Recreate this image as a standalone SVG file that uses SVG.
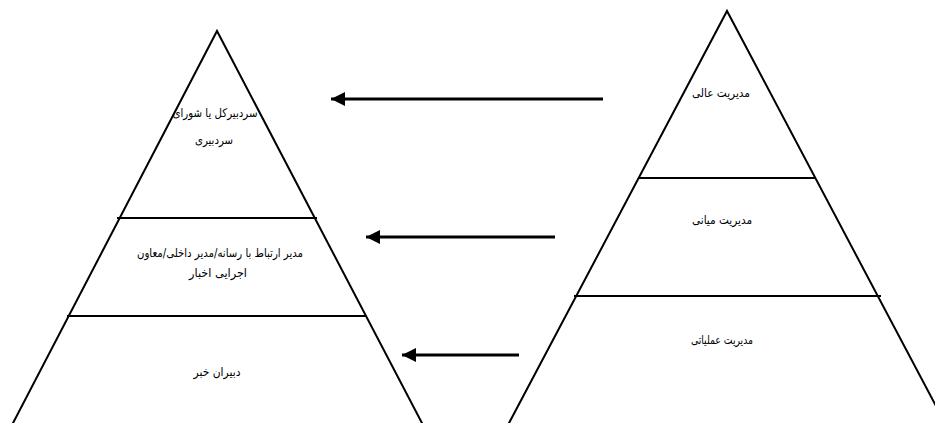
<svg xmlns="http://www.w3.org/2000/svg" width="935" height="423" viewBox="0 0 935 423">
<style>
.edge{fill:none;stroke:#000;stroke-width:2;}
.div{stroke:#000;stroke-width:2;}
.lbl{font-family:"DejaVu Sans","Noto Sans",sans-serif;font-size:12px;fill:#000;text-anchor:middle;direction:rtl;}
.arr{stroke:#000;stroke-width:3;fill:none;}
</style>
<defs>
<marker id="ah" markerUnits="userSpaceOnUse" markerWidth="16" markerHeight="14" refX="14" refY="7" orient="auto">
<path d="M0,0 L14,7 L0,14 Z" fill="#000"/>
</marker>
</defs>
<rect width="935" height="423" fill="#fff"/>
<g id="pyramid-left">
<path class="edge" d="M12,425 L217,31 L423,425"/>
<line class="div" x1="117" y1="218" x2="317" y2="218"/>
<line class="div" x1="67" y1="316" x2="366" y2="316"/>
</g>
<g id="node-sardabir">
<text class="lbl" x="215" y="117" textLength="85" lengthAdjust="spacingAndGlyphs">سردبیرکل یا شورای</text>
<text class="lbl" x="214" y="144" textLength="38" lengthAdjust="spacingAndGlyphs">سردبیری</text>
</g>
<g id="node-modir-ertebat">
<text class="lbl" x="220" y="257" textLength="166" lengthAdjust="spacingAndGlyphs">مدیر ارتباط با رسانه/مدیر داخلی/معاون</text>
<text class="lbl" x="218" y="277" textLength="58" lengthAdjust="spacingAndGlyphs">اجرایی اخبار</text>
</g>
<g id="node-dabiran">
<text class="lbl" x="217" y="376" textLength="47" lengthAdjust="spacingAndGlyphs">دبیران خبر</text>
</g>
<g id="pyramid-right">
<path class="edge" d="M508,425 L727,11 L946,425"/>
<line class="div" x1="638" y1="178" x2="815" y2="178"/>
<line class="div" x1="574" y1="296" x2="881" y2="296"/>
</g>
<g id="node-aali">
<text class="lbl" x="721" y="97" textLength="58" lengthAdjust="spacingAndGlyphs">مدیریت عالی</text>
</g>
<g id="node-miani">
<text class="lbl" x="722" y="224" textLength="60" lengthAdjust="spacingAndGlyphs">مدیریت میانی</text>
</g>
<g id="node-amaliati">
<text class="lbl" x="722" y="344" textLength="62" lengthAdjust="spacingAndGlyphs">مدیریت عملیاتی</text>
</g>
<g id="connectors">
<line class="arr" x1="603" y1="99" x2="331" y2="99" marker-end="url(#ah)"/>
<line class="arr" x1="555" y1="237" x2="366" y2="237" marker-end="url(#ah)"/>
<line class="arr" x1="519" y1="355" x2="402" y2="355" marker-end="url(#ah)"/>
</g>
</svg>
